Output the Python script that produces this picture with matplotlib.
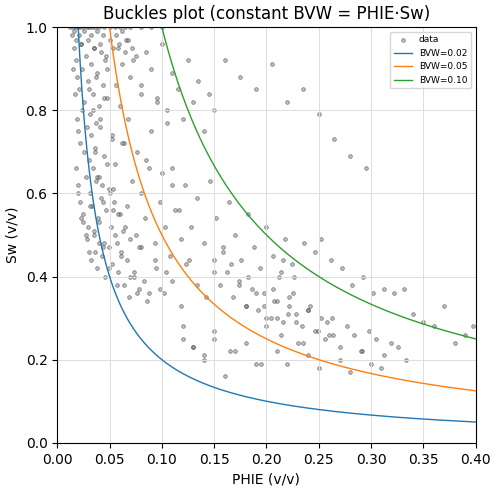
import numpy as np
import matplotlib.pyplot as plt

# scatter points (PHIE, Sw)
phie = [
0.012,0.015,0.018,0.020,0.022,0.025,0.028,0.030,0.033,0.036,0.040,0.045,0.050,0.055,0.060,0.065,0.070,0.080,0.090,0.100,
0.014,0.016,0.018,0.019,0.021,0.023,0.024,0.026,0.027,0.029,0.031,0.032,0.034,0.035,0.037,0.038,0.040,0.042,0.044,0.046,
0.015,0.017,0.019,0.020,0.022,0.024,0.026,0.028,0.030,0.032,0.034,0.036,0.038,0.041,0.043,0.045,0.048,0.050,0.052,0.055,
0.018,0.020,0.022,0.025,0.027,0.029,0.031,0.033,0.035,0.037,0.039,0.042,0.044,0.047,0.049,0.051,0.054,0.057,0.060,0.063,
0.025,0.028,0.030,0.032,0.035,0.038,0.040,0.043,0.046,0.049,0.052,0.055,0.058,0.061,0.064,0.067,0.070,0.073,0.076,0.080,
0.030,0.034,0.037,0.041,0.045,0.048,0.052,0.056,0.060,0.064,0.068,0.072,0.076,0.080,0.085,0.090,0.095,0.100,0.105,0.110,
0.036,0.040,0.044,0.048,0.053,0.058,0.062,0.067,0.071,0.075,0.080,0.084,0.088,0.093,0.098,0.103,0.108,0.113,0.118,0.123,
0.058,0.062,0.066,0.070,0.075,0.080,0.085,0.090,0.095,0.100,0.105,0.110,0.115,0.120,0.125,0.130,0.135,0.140,0.145,0.150,
0.070,0.078,0.086,0.094,0.102,0.110,0.118,0.126,0.134,0.142,0.150,0.158,0.166,0.174,0.182,0.190,0.198,0.206,0.214,0.222,
0.110,0.116,0.122,0.128,0.134,0.140,0.146,0.152,0.158,0.164,0.170,0.176,0.182,0.188,0.194,0.200,0.206,0.212,0.218,0.224,
0.150,0.156,0.162,0.168,0.174,0.180,0.186,0.192,0.198,0.204,0.210,0.216,0.222,0.228,0.234,0.240,0.246,0.252,0.258,0.264,
0.200,0.207,0.214,0.221,0.228,0.235,0.242,0.249,0.256,0.263,0.270,0.277,0.284,0.291,0.298,0.305,0.312,0.319,0.326,0.333,
0.120,0.130,0.140,0.150,0.160,0.170,0.180,0.190,0.200,0.210,0.220,0.230,0.240,0.250,0.260,0.270,0.280,0.290,0.300,0.310,
0.340,0.350,0.360,0.370,0.380,0.390,0.398,0.312,0.322,0.332,0.262,0.272,0.282,0.292,0.302,0.252,0.246,0.236,0.226,0.216,
0.160,0.175,0.190,0.205,0.220,0.235,0.250,0.265,0.280,0.295,0.120,0.130,0.140,0.150,0.165,0.180,0.195,0.210,0.225,0.240,
0.016,0.018,0.021,0.023,0.026,0.029,0.032,0.035,0.038,0.041,0.044,0.047,0.050,0.053,0.056,0.059,0.062,0.065,0.068,0.071,
0.020,0.023,0.027,0.031,0.036,0.040,0.045,0.049,0.053,0.057,0.061,0.065,0.069,0.073,0.078,0.083,0.088,0.093,0.098,0.104,
]
sw = [
1.00,1.00,1.00,1.00,1.00,1.00,1.00,1.00,1.00,1.00,1.00,1.00,1.00,1.00,1.00,1.00,1.00,1.00,1.00,1.00,
0.98,0.95,0.92,0.88,0.85,0.96,0.90,0.82,0.93,0.87,0.79,0.91,0.84,0.95,0.77,0.89,0.81,0.94,0.86,0.92,
0.90,0.84,0.78,0.75,0.72,0.80,0.70,0.76,0.68,0.74,0.66,0.71,0.64,0.78,0.62,0.69,0.83,0.60,0.73,0.67,
0.66,0.62,0.58,0.55,0.64,0.52,0.60,0.57,0.50,0.63,0.54,0.59,0.47,0.56,0.61,0.52,0.58,0.48,0.55,0.51,
0.53,0.49,0.46,0.44,0.51,0.42,0.48,0.45,0.40,0.47,0.43,0.50,0.41,0.46,0.38,0.44,0.49,0.40,0.36,0.47,
0.85,0.80,0.88,0.76,0.83,0.90,0.74,0.86,0.81,0.72,0.78,0.92,0.70,0.84,0.68,0.75,0.82,0.65,0.77,0.62,
0.70,0.64,0.58,0.67,0.61,0.55,0.72,0.57,0.63,0.50,0.60,0.54,0.66,0.48,0.58,0.52,0.45,0.56,0.49,0.43,
0.95,0.91,0.97,0.88,0.93,0.86,0.94,0.90,0.83,0.96,0.80,0.89,0.85,0.78,0.92,0.82,0.87,0.75,0.84,0.80,
0.40,0.37,0.34,0.42,0.36,0.39,0.33,0.44,0.38,0.35,0.41,0.47,0.43,0.38,0.40,0.36,0.33,0.37,0.41,0.35,
0.66,0.56,0.62,0.52,0.59,0.48,0.63,0.54,0.46,0.58,0.50,0.44,0.55,0.47,0.42,0.52,0.45,0.40,0.49,0.43,
0.44,0.38,0.41,0.35,0.39,0.33,0.37,0.32,0.36,0.30,0.34,0.29,0.33,0.31,0.28,0.32,0.27,0.30,0.29,0.26,
0.30,0.34,0.26,0.31,0.29,0.24,0.33,0.27,0.25,0.30,0.23,0.28,0.26,0.22,0.27,0.25,0.21,0.24,0.23,0.20,
0.25,0.23,0.21,0.27,0.16,0.22,0.24,0.19,0.28,0.22,0.19,0.24,0.21,0.18,0.26,0.20,0.17,0.22,0.19,0.18,
0.31,0.29,0.28,0.33,0.24,0.26,0.28,0.37,0.36,0.37,0.44,0.42,0.38,0.40,0.36,0.49,0.46,0.48,0.40,0.44,
0.92,0.88,0.85,0.91,0.82,0.85,0.79,0.73,0.69,0.66,0.28,0.23,0.20,0.25,0.22,0.33,0.19,0.30,0.36,0.32,
0.99,0.97,0.98,0.96,0.99,0.97,0.98,0.95,0.99,0.96,0.98,0.93,0.97,0.95,0.98,0.96,0.99,0.94,0.97,0.95,
0.60,0.54,0.50,0.57,0.46,0.53,0.48,0.42,0.56,0.38,0.45,0.52,0.35,0.41,0.47,0.39,0.36,0.44,0.37,0.41,
]

bvw_values = [0.02, 0.05, 0.10]
colors = ['#1f77b4', '#ff7f0e', '#2ca02c']

fig, ax = plt.subplots(figsize=(4.98, 4.92), dpi=100)
ax.scatter(phie, sw, s=7, c='#888888', edgecolors='#222222', linewidths=0.6,
           alpha=0.5, label='data')
x = np.linspace(0.001, 0.4, 500)
for b, c in zip(bvw_values, colors):
    ax.plot(x, b / x, color=c, lw=1, label=f'BVW={b:.2f}')
ax.set_xlim(0, 0.4)
ax.set_ylim(0, 1)
ax.set_xlabel('PHIE (v/v)')
ax.set_ylabel('Sw (v/v)')
ax.set_title('Buckles plot (constant BVW = PHIE·Sw)')
ax.grid(True, color='#dddddd', lw=0.7)
ax.legend(loc='upper right', fontsize=6.5)
fig.subplots_adjust(left=0.115, right=0.955, bottom=0.1, top=0.945)
fig.savefig('out.png', dpi=100)
